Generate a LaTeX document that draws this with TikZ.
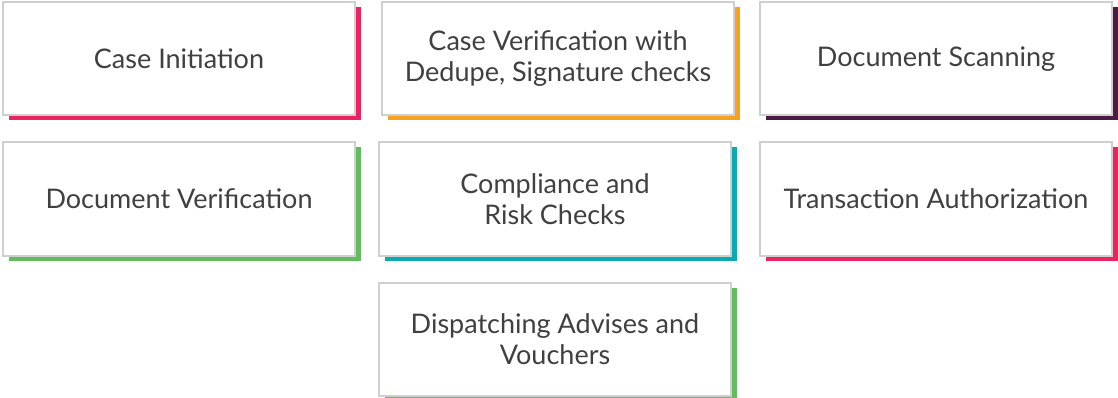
\documentclass[tikz,border=0pt]{standalone}
\usepackage{fontspec}
\setmainfont{Lato}
\usetikzlibrary{positioning,shadows}
\definecolor{cardline}{HTML}{CFCFCF}
\definecolor{cardtext}{HTML}{404040}
\definecolor{accpink}{HTML}{EC2360}
\definecolor{accorange}{HTML}{F6A21E}
\definecolor{accplum}{HTML}{4D1A46}
\definecolor{accgreen}{HTML}{62BB5D}
\definecolor{accteal}{HTML}{0AAAB4}
\tikzset{card/.style = {draw=cardline, line width=2pt, fill=white, rectangle,
  minimum width=352pt, minimum height=113pt, align=center, text=cardtext,
  font=\fontsize{27}{31}\selectfont,
  drop shadow={fill=#1, opacity=1, shadow xshift=6pt, shadow yshift=-5pt}}}

\begin{document}
\begin{tikzpicture}[node distance=25pt]
  \useasboundingbox (0,0) rectangle (1118pt,-398pt);
  \node [card=accpink] (init) at (179pt,-59pt) {Case Initiation};
  \node [card=accorange, right=25pt of init] (caseverif) {Case Verification with\\Dedupe, Signature checks};
  \node [card=accplum, right=24pt of caseverif] (scan) {Document Scanning};
  \node [card=accgreen, below=of init] (docverif) {Document Verification};
  \node [card=accteal, below=of caseverif, xshift=-3pt] (risk) {Compliance and\\Risk Checks};
  \node [card=accpink, below=of scan] (auth) {Transaction Authorization};
  \node [card=accgreen, below=of risk] (dispatch) {Dispatching Advises and\\Vouchers};
\end{tikzpicture}
\end{document}
